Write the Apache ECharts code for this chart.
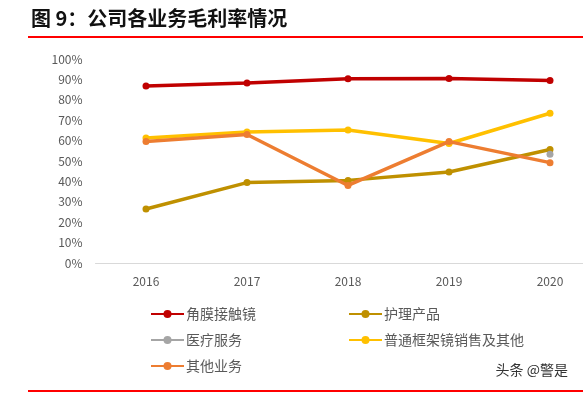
<!DOCTYPE html>
<html>
<head>
<meta charset="utf-8">
<script src="https://cdn.jsdelivr.net/npm/echarts@6/dist/echarts.min.js"></script>
<style>
  html, body { margin: 0; padding: 0; background: #fff; }
  #chart { width: 583px; height: 397px; }
</style>
</head>
<body>
<div id="chart"></div>
<script>
// data (gross margin, %)
const years = ['2016', '2017', '2018', '2019', '2020']
const contactLens = [86.8, 88.2, 90.3, 90.5, 89.5]
const careProducts = [26.5, 39.4, 40.5, 44.6, 55.6]
const medicalService = [null, null, null, null, 53.3]
const framesOther = [61.3, 64.2, 65.2, 58.6, 73.4]
const otherBiz = [59.5, 63.0, 38.0, 59.5, 49.2]
const yTicks = [0, 10, 20, 30, 40, 50, 60, 70, 80, 90, 100]

const font = '"Noto Sans CJK SC", sans-serif'
const grey = '#595959'

const mkLine = (name, data, color, z) => ({
  name, type: 'line', data, z,
  symbol: 'circle', symbolSize: 7,
  lineStyle: { width: 3.5, color },
  itemStyle: { color },
  connectNulls: false
})

const chart = echarts.init(document.getElementById('chart'), null, { renderer: 'canvas' })

const option = {
  backgroundColor: '#fff',
  animation: false,
  textStyle: { fontFamily: font },
  title: {
    text: '图 9：公司各业务毛利率情况',
    left: 26, top: 3,
    textStyle: { fontSize: 20, fontWeight: 'bold', color: '#111', fontFamily: font }
  },
  // plot area runs past the right edge of the picture, as in the source image
  grid: {
    left: 95.5, width: 505, top: 59, height: 204,
    containLabel: false, outerBoundsMode: 'none'
  },
  xAxis: {
    type: 'category',
    data: years,
    boundaryGap: true,
    axisTick: { show: false },
    axisLine: { lineStyle: { color: '#d9d9d9', width: 1 } },
    axisLabel: { color: grey, fontSize: 12, margin: 12, fontFamily: font }
  },
  yAxis: {
    type: 'value',
    min: yTicks[0], max: yTicks[yTicks.length - 1], interval: 10,
    axisLine: { show: false },
    axisTick: { show: false },
    splitLine: { show: false },
    axisLabel: { color: grey, fontSize: 12, margin: 13, formatter: '{value}%', fontFamily: font }
  },
  legend: [{
    orient: 'vertical', left: 150, top: 307, padding: 0,
    itemWidth: 33, itemHeight: 10, itemGap: 12,
    textStyle: { color: grey, fontSize: 14, fontFamily: font, padding: [0, 0, 0, -3] },
    data: ['角膜接触镜', '医疗服务', '其他业务']
  }, {
    orient: 'vertical', left: 348, top: 307, padding: 0,
    itemWidth: 33, itemHeight: 10, itemGap: 12,
    textStyle: { color: grey, fontSize: 14, fontFamily: font, padding: [0, 0, 0, -3] },
    data: ['护理产品', '普通框架镜销售及其他']
  }],
  graphic: [
    { type: 'rect', shape: { x: 28, y: 36, width: 560, height: 2 }, style: { fill: '#ff0000' } },
    { type: 'rect', shape: { x: 28, y: 390, width: 560, height: 2 }, style: { fill: '#ff0000' } },
    { type: 'text', right: 15, top: 363, style: { text: '头条 @警是', fill: '#333', font: '14px ' + font } }
  ],
  series: [
    mkLine('角膜接触镜', contactLens, '#c00000', 5),
    mkLine('护理产品', careProducts, '#bf9000', 2),
    mkLine('医疗服务', medicalService, '#a5a5a5', 3),
    mkLine('普通框架镜销售及其他', framesOther, '#ffc000', 3),
    mkLine('其他业务', otherBiz, '#ed7d31', 4)
  ]
}

chart.setOption(option)
</script>
</body>
</html>
